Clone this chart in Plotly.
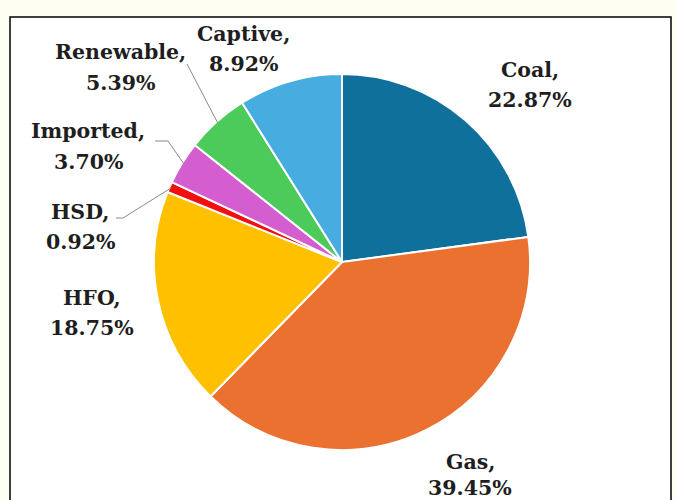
import numpy as np
import plotly.graph_objects as go

# Fuel mix shares (%)
fuels = ["Coal", "Gas", "HFO", "HSD", "Imported", "Renewable", "Captive"]
shares = [22.87, 39.45, 18.75, 0.92, 3.70, 5.39, 8.92]
colors = ["#10709C", "#EA7130", "#FFC000", "#F01010", "#D45ED0", "#4CCB5A", "#47ADE0"]

# Label anchor positions in pixels (name line centre, percentage line centre)
label_px = {
    "Coal": (530, 70, 100),
    "Gas": (470, 462, 488),
    "HFO": (92, 298, 328),
    "HSD": (80, 212, 242),
    "Imported": (88, 131, 162),
    "Renewable": (120, 52, 83),
    "Captive": (243, 34, 64),
}
# Leader-line start points (pixels) for the small slices
leaders = {
    "Renewable": [(187, 64)],
    "Imported": [(155, 141), (168, 141)],
    "HSD": [(116, 218), (123, 218)],
}

W, H = 676, 500
cx, cy, r = 342, 262, 188

fig = go.Figure(go.Pie(
    labels=fuels,
    values=shares,
    sort=False,
    direction="clockwise",
    rotation=0,
    marker=dict(colors=colors, line=dict(color="white", width=2)),
    textinfo="none",
    showlegend=False,
    domain=dict(x=[(cx - r) / W, (cx + r) / W], y=[1 - (cy + r) / H, 1 - (cy - r) / H]),
))

font = dict(family="DejaVu Serif", size=20.5, color="#1e1e1e")
annotations = []
for name, val in zip(fuels, shares):
    x, y1, y2 = label_px[name]
    for txt, yy in ((f"<b>{name},</b>", y1), (f"<b>{val:.2f}%</b>", y2)):
        annotations.append(dict(
            x=x / W, y=1 - yy / H, xref="paper", yref="paper",
            text=txt, showarrow=False, font=font,
            xanchor="center", yanchor="middle",
        ))

# Leader lines end on the slice edge at each slice's mid angle
shapes = [dict(type="rect", xref="paper", yref="paper",
               x0=10 / W, x1=671 / W, y0=-0.05, y1=1 - 17 / H,
               line=dict(color="black", width=1.5), fillcolor="white", layer="below")]
total = sum(shares)
cum = np.cumsum([0] + shares[:-1])
for name, val, c0 in zip(fuels, shares, cum):
    if name not in leaders:
        continue
    ang = np.deg2rad((c0 + val / 2) / total * 360)
    ex = cx + r * 0.99 * np.sin(ang)
    ey = cy - r * 0.99 * np.cos(ang)
    pts = leaders[name] + [(ex, ey)]
    path = "M " + " L ".join(f"{px / W},{1 - py / H}" for px, py in pts)
    shapes.append(dict(type="path", xref="paper", yref="paper", path=path,
                       line=dict(color="#8a8a8a", width=1), layer="above"))

fig.update_layout(
    width=W, height=H,
    margin=dict(l=0, r=0, t=0, b=0),
    paper_bgcolor="#FFFEF3",
    annotations=annotations,
    shapes=shapes,
)
fig.write_html("out.html")
